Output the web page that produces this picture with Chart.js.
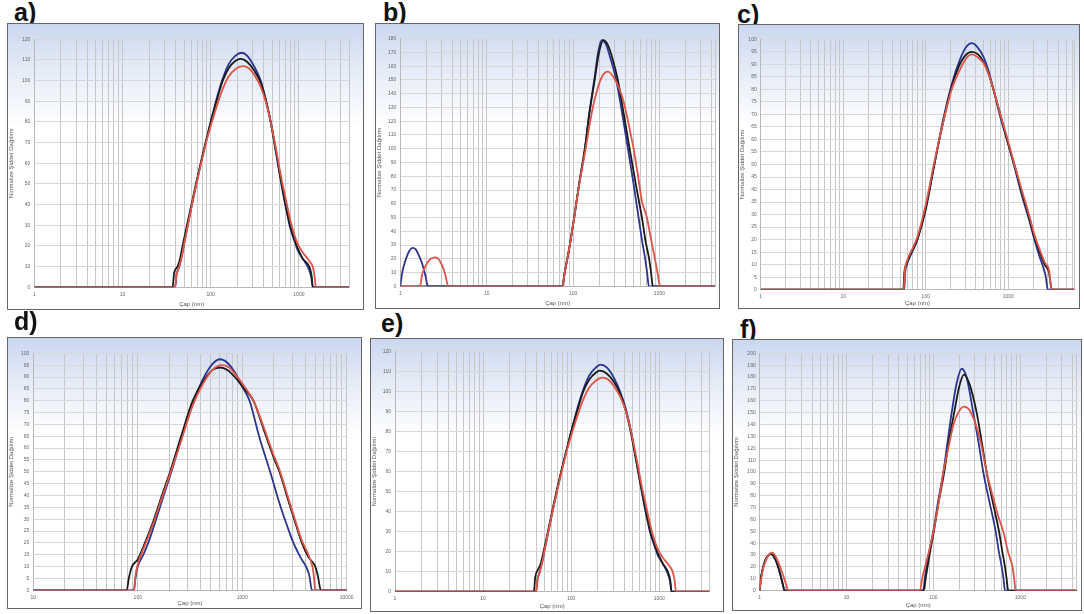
<!DOCTYPE html>
<html>
<head>
<meta charset="utf-8">
<script src="https://cdn.jsdelivr.net/npm/chart.js@4.4.1/dist/chart.umd.min.js"></script>
<style>
  body { margin: 0; width: 1084px; height: 614px; background: #fff; position: relative; overflow: hidden; font-family: "Liberation Sans", Arial, sans-serif; }
  .box { position: absolute; border: 1px solid #666; box-sizing: border-box; background: linear-gradient(to bottom, #cad7ee 0%, #e2e9f6 14%, #ffffff 36%); }
  .box canvas { position: absolute; left: 0; top: 0; }
  .lbl { position: absolute; font-weight: bold; font-size: 25px; line-height: 25px; color: #111; }
</style>
</head>
<body>
<script>
// size distributions [diameter nm, intensity]
// series order in each panel: red, black, blue

// a)
const aRed = [[1,0],[39.5,0],[41,6],[44,10],[47,15],[50,21],[55,30],[62,41],[68,49],[80,62],[90,71],[100,78],[120,89],[137,96],[160,102],[190,105.5],[230,107],[270,106],[320,102],[369,97],[420,90],[479,80],[550,67],[638,52],[700,44],[794,33],[880,26],[968,21],[1100,17],[1300,13],[1435,10],[1500,6],[1560,0],[3700,0]];
const aBlack = [[1,0],[37,0],[38.5,7],[42,10],[45,14],[48,20],[55,32],[62,42],[68,50],[80,63],[90,72],[100,80],[120,92],[137,100],[160,106],[190,109.5],[220,110.5],[260,109],[310,105],[369,99],[420,91],[479,80],[550,66],[638,50],[700,41],[794,30],[880,24],[968,19],[1100,14],[1313,10],[1390,6],[1440,0],[3700,0]];
const aBlue = [[1,0],[39.5,0],[41,6],[44,10],[47,15],[50,21],[55,30],[62,41],[68,49],[80,63],[90,72],[100,80],[120,93],[137,101],[160,108],[190,112],[225,113.5],[260,112],[310,107],[369,100],[420,91],[479,80],[550,65],[638,49],[700,40],[794,29],[880,23],[968,18],[1100,14],[1290,9],[1380,5],[1440,0],[3700,0]];

// b)
const bRed = [[1,0],[1.69,0],[1.78,8],[1.9,13],[2.05,17],[2.25,20],[2.52,21],[2.8,19.5],[3.05,15],[3.3,9],[3.6,0],[75,0],[80,10],[90,27],[103,50],[118,74],[140,100],[160,122],[185,140],[215,152],[252,156],[280,154],[320,148],[370,138],[417,125],[460,112],[502,100],[560,82],[627,62],[716,50],[800,34],[887,20],[950,10],[1021,0],[4400,0]];
const bBlack = [[1,0],[75,0],[80,10],[90,27],[103,50],[118,75],[137,100],[155,126],[178,150],[200,170],[225,179],[250,176],[285,166],[330,150],[385,126],[452,100],[530,75],[627,50],[690,33],[760,20],[800,10],[841,0],[4400,0]];
const bBlue = [[1,0],[1.04,8],[1.09,14],[1.18,21],[1.28,26],[1.39,28],[1.5,27],[1.6,24],[1.78,17],[1.95,8],[2.09,0],[75,0],[80,10],[90,27],[103,50],[118,75],[137,100],[155,127],[176,150],[195,170],[215,179],[240,176],[270,166],[316,150],[370,126],[432,100],[500,75],[574,50],[630,33],[684,20],[720,10],[755,0],[4400,0]];

// c)
const cRed = [[1,0],[54,0],[56,8],[60,12],[68,16],[79,21],[100,34],[127,51],[160,66],[206,80],[260,88],[310,92.5],[361,94],[420,93],[500,90.5],[580,86],[660,80],[800,70],[1000,59],[1186,50],[1450,40],[1780,30],[2113,21],[2400,16],[2750,11],[3100,8],[3365,0],[6300,0]];
const cBlack = [[1,0],[53.5,0],[55,7],[58,10],[65,14],[72,17],[79,20],[100,32],[127,50],[160,66],[206,81],[250,89],[300,93.5],[361,95],[430,94],[500,91],[580,86],[660,80],[800,70],[1000,58],[1208,49],[1450,39],[1780,29],[2113,20],[2400,15],[2750,10],[3100,7],[3365,0],[6300,0]];
const cBlue = [[1,0],[55,0],[56,6],[59,10],[66,14],[79,20],[100,33],[127,50],[160,67],[206,82],[260,92],[310,97],[361,98.5],[420,97],[500,93],[580,87],[660,80],[800,69],[1000,58],[1186,49],[1450,38],[1780,28],[2113,19],[2400,13],[2650,9],[2850,5],[3010,0],[6300,0]];

// d)
const dRed = [[10,0],[92,0],[95,6],[100,11],[117,19],[143,29],[170,39],[204,49],[260,63],[336,78],[420,87],[520,93],[640,95],[750,94],[900,90],[1050,86],[1280,80],[1600,69],[2000,57],[2270,51],[2800,38],[3300,28],[3720,21],[4300,15],[4700,10],[4850,6],[5000,0],[10000,0]];
const dBlack = [[10,0],[78.5,0],[82,5],[88,10],[100,13],[117,20],[143,30],[170,40],[204,50],[260,65],[336,80],[420,88],[520,93],[614,94],[720,93],[850,90],[1000,86],[1280,80],[1600,68],[2000,56],[2270,50],[2800,37],[3300,27],[3720,20],[4300,14],[5000,10],[5300,6],[5660,0],[10000,0]];
const dBlue = [[10,0],[92,0],[95,5],[100,10],[113,15],[126,20],[150,30],[177,40],[210,50],[265,65],[336,79],[420,89],[520,95.5],[614,97.5],[720,96],[850,92],[1000,86],[1175,80],[1450,65],[1850,50],[2300,36],[2700,27],[3090,20],[3600,14],[4080,10],[4400,6],[4640,0],[10000,0]];

// e)
const eRed = [[1,0],[40,0],[41.5,6],[44,10],[47,15],[50,21],[55,30],[62,41],[68,49],[80,62],[90,71],[100,78],[120,89],[137,96],[160,102],[190,105.5],[225,107],[265,106],[315,102],[365,97],[420,90],[479,80],[550,67],[638,52],[700,44],[794,33],[880,26],[968,21],[1100,17],[1300,13],[1420,10],[1490,6],[1550,0],[3700,0]];
const eBlack = [[1,0],[37.8,0],[39,7],[42,11],[45,14],[48,19],[55,31],[62,42],[68,50],[80,63],[90,72],[100,80],[120,92],[137,100],[160,106],[190,109.5],[212,110.5],[255,109],[305,105],[360,99],[420,90],[479,79],[550,65],[638,50],[700,41],[794,30],[880,24],[968,19],[1100,14],[1250,10],[1330,6],[1380,0],[3700,0]];
const eBlue = [[1,0],[40,0],[41.5,6],[44,10],[47,15],[50,21],[55,30],[62,41],[68,49],[80,63],[90,72],[100,80],[120,93],[137,101],[160,108],[190,112],[215,113.5],[255,112],[305,107],[360,100],[420,91],[479,80],[550,65],[638,49],[700,40],[794,29],[880,23],[968,18],[1100,14],[1250,9],[1330,5],[1380,0],[3700,0]];

// f)
const fRed = [[1,0],[1.04,10],[1.1,19],[1.2,27],[1.3,31],[1.4,32],[1.52,29],[1.7,21],[1.9,11],[2.02,5],[2.12,0],[70,0],[74,10],[80,20],[90,35],[100,50],[115,75],[130,100],[150,122],[170,140],[193,150],[224,155],[260,152],[300,142],[350,125],[409,100],[480,80],[560,62],[635,50],[720,33],[812,20],[850,10],[883,0],[4450,0]];
const fBlack = [[1,0],[1.03,10],[1.08,18],[1.15,25],[1.25,29.5],[1.34,31],[1.45,29],[1.6,22],[1.75,12],[1.85,5],[1.93,0],[77,0],[82,12],[90,30],[101,50],[115,75],[133,100],[150,125],[173,150],[198,172],[224,182],[260,174],[314,150],[360,125],[409,100],[480,75],[568,50],[620,33],[665,20],[695,10],[725,0],[4450,0]];
const fBlue = [[1,0],[1.03,10],[1.08,18],[1.15,25],[1.25,29.5],[1.34,31],[1.45,29],[1.6,22],[1.75,12],[1.85,5],[1.93,0],[76,0],[80,12],[88,30],[99.5,50],[113,75],[130,100],[145,125],[162,150],[185,175],[211,187],[240,180],[287,150],[330,125],[374,100],[440,75],[520,50],[565,33],[610,20],[640,10],[665,0],[4450,0]];

// axis ranges and tick labels
const xRanges = { a: [1, 3700], b: [1, 4400], c: [1, 6300], d: [10, 10000], e: [1, 3700], f: [1, 4450] };
const xTickLabels = { a: [1, 10, 100, 1000], b: [1, 10, 100, 1000], c: [1, 10, 100, 1000], d: [10, 100, 1000, 10000], e: [1, 10, 100, 1000], f: [1, 10, 100, 1000] };
const yMaxes = { a: 120, b: 180, c: 100, d: 100, e: 120, f: 200 };
const ySteps = { a: 10, b: 10, c: 5, d: 5, e: 10, f: 10 };
const seriesByPanel = {
  a: [aRed, aBlack, aBlue], b: [bRed, bBlack, bBlue], c: [cRed, cBlack, cBlue],
  d: [dRed, dBlack, dBlue], e: [eRed, eBlack, eBlue], f: [fRed, fBlack, fBlue],
};
const xTitle = "Çap (nm)";
const yTitle = "Normalize Şiddet Dağılımı";

// page layout: box [left, top, right, bottom], plot area [l, t, r, b], label [x, baseline]
const layout = [
  { key: "a", box: [7, 23, 363, 309], plot: [34.3, 39.3, 349, 287.3], label: [14, 21] },
  { key: "b", box: [375, 23, 719, 308], plot: [400.3, 38.7, 715, 286.3], label: [383, 21] },
  { key: "c", box: [738, 24, 1079, 308], plot: [760.7, 39.3, 1074.3, 289.7], label: [737, 23] },
  { key: "d", box: [7, 337, 361, 608], plot: [33.3, 353.3, 346.7, 590.3], label: [14, 330] },
  { key: "e", box: [370, 338, 723, 611], plot: [395, 351.7, 709.3, 591.7], label: [381, 332] },
  { key: "f", box: [732, 339, 1081, 610], plot: [759.7, 353.3, 1076.7, 590.7], label: [740, 338] },
];

const lineColors = ["#dd5546", "#1a1a1a", "#2b3590"];

Chart.defaults.font.family = "'Liberation Sans', Arial, sans-serif";

function gridValues(min, max) {
  const vals = [];
  for (let e = Math.floor(Math.log10(min)); Math.pow(10, e) <= max; e++) {
    for (let k = 1; k <= 9; k++) {
      const v = k * Math.pow(10, e);
      if (v >= min && v <= max) vals.push(v);
    }
  }
  if (vals[vals.length - 1] < max) vals.push(max);
  return vals;
}

layout.forEach(function (p) {
  const [L, T, R, B] = p.box;
  const [l, t, r, b] = p.plot;

  const lbl = document.createElement("div");
  lbl.className = "lbl";
  lbl.textContent = p.key + ")";
  lbl.style.left = p.label[0] + "px";
  lbl.style.top = (p.label[1] - 21.2) + "px";
  document.body.appendChild(lbl);

  const box = document.createElement("div");
  box.className = "box";
  box.style.left = L + "px";
  box.style.top = T + "px";
  box.style.width = (R - L + 1) + "px";
  box.style.height = (B - T + 1) + "px";
  const cv = document.createElement("canvas");
  const cw = R - L - 1, ch = B - T - 1;
  cv.width = cw; cv.height = ch;
  cv.style.width = cw + "px"; cv.style.height = ch + "px";
  box.appendChild(cv);
  document.body.appendChild(box);

  const [xMin, xMax] = xRanges[p.key];
  const labels = xTickLabels[p.key];
  const yWidth = l - (L + 1);
  const xHeight = B - b;

  new Chart(cv.getContext("2d"), {
    type: "line",
    data: {
      datasets: seriesByPanel[p.key].map(function (pts, i) {
        return {
          data: pts.map(function (q) { return { x: q[0], y: q[1] }; }),
          borderColor: lineColors[i],
          borderWidth: 1.8,
          pointRadius: 0,
          cubicInterpolationMode: "monotone",
          fill: false,
        };
      }),
    },
    options: {
      responsive: false,
      animation: false,
      devicePixelRatio: 1,
      layout: { padding: { top: t - (T + 1), right: R - r, left: 0, bottom: 0 } },
      plugins: { legend: { display: false }, tooltip: { enabled: false } },
      scales: {
        x: {
          type: "logarithmic",
          min: xMin,
          max: xMax,
          afterBuildTicks: function (scale) {
            scale.ticks = gridValues(xMin, xMax).map(function (v) { return { value: v }; });
          },
          afterFit: function (scale) { scale.height = xHeight; },
          ticks: {
            autoSkip: false,
            maxRotation: 0,
            padding: 4,
            color: "#666",
            font: { size: 5 },
            callback: function (v) {
              return labels.some(function (q) { return Math.abs(q - v) < 1e-6; }) ? String(v) : "";
            },
          },
          grid: { color: "#c6c6c6", lineWidth: 1, drawTicks: false },
          border: { color: "#b8b8b8" },
          title: { display: true, text: xTitle, color: "#555", font: { size: 6 }, padding: { top: 0, bottom: 1 } },
        },
        y: {
          min: 0,
          max: yMaxes[p.key],
          afterFit: function (scale) { scale.width = yWidth; },
          ticks: { stepSize: ySteps[p.key], padding: 4, color: "#666", font: { size: 5 } },
          grid: { color: "#d8d8d8", lineWidth: 1, drawTicks: false },
          border: { color: "#b8b8b8" },
          title: { display: true, text: yTitle, color: "#555", font: { size: 6 }, padding: { top: 0, bottom: 1 } },
        },
      },
    },
  });
});
</script>
</body>
</html>
